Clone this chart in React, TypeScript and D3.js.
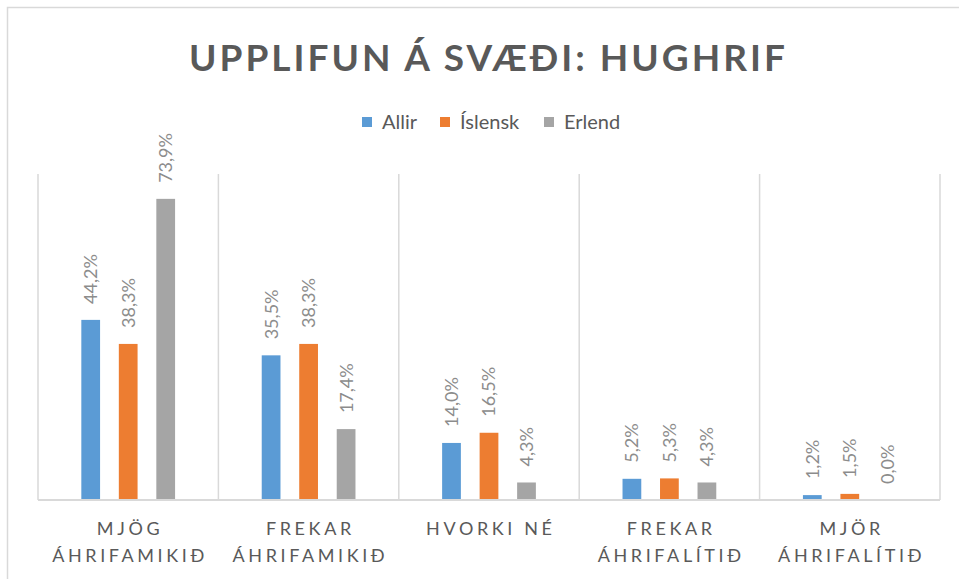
import React from "react";
import * as d3 from "d3";

const categories = ["MJÖG|ÁHRIFAMIKIÐ", "FREKAR|ÁHRIFAMIKIÐ", "HVORKI NÉ", "FREKAR|ÁHRIFALÍTIÐ", "MJÖR|ÁHRIFALÍTIÐ"];
const seriesNames = ["Allir", "Íslensk", "Erlend"];
const allir = [44.2, 35.5, 14.0, 5.2, 1.2];
const islensk = [38.3, 38.3, 16.5, 5.3, 1.5];
const erlend = [73.9, 17.4, 4.3, 4.3, 0.0];
const colors = ["#5b9bd5", "#ed7d31", "#a5a5a5"];
const title = "UPPLIFUN Á SVÆÐI: HUGHRIF";

const W = 959;
const H = 579;
const plot = { left: 38, right: 940, top: 174, bottom: 500 };
const FONT = "Lato, 'Open Sans', sans-serif";

export default function App() {
  const values = [allir, islensk, erlend];
  const x = d3.scaleBand<string>().domain(categories).range([plot.left, plot.right]).padding(0);
  const bw = x.bandwidth();
  const xi = d3
    .scaleBand<string>()
    .domain(seriesNames)
    .range([bw / 2 - 56.25, bw / 2 + 56.25])
    .paddingInner(0.5)
    .paddingOuter(0.25);
  const y = d3.scaleLinear().domain([0, 80]).range([plot.bottom, plot.top]);
  const fmt = (v: number) => v.toFixed(1).replace(".", ",") + "%";

  const gridXs = categories.map((c) => x(c)!).concat([plot.right]);
  const legendOffsets = [362, 440, 544];

  return (
    <svg
      width={W}
      height={H}
      style={{ position: "absolute", left: 0, top: 0, background: "#fff" }}
      fontFamily={FONT}
    >
      <rect x={0} y={0} width={W} height={H} fill="#fff" />
      <rect x={7.5} y={7.5} width={W + 20} height={H + 20} fill="none" stroke="#d9d9d9" strokeWidth={1.5} />
      <text
        x={487}
        y={71}
        textAnchor="middle"
        fontSize={37}
        fontWeight={700}
        fill="#595959"
        textLength={596}
        lengthAdjust="spacing"
      >
        {title}
      </text>
      {seriesNames.map((s, i) => (
        <g key={s} transform={`translate(${legendOffsets[i]},0)`}>
          <rect x={0} y={117} width={10} height={10} fill={colors[i]} />
          <text x={20} y={129} fontSize={20} fill="#595959">
            {s}
          </text>
        </g>
      ))}
      {gridXs.map((gx, i) => (
        <line key={i} x1={gx} x2={gx} y1={plot.top} y2={plot.bottom} stroke="#d9d9d9" strokeWidth={1.5} />
      ))}
      {categories.map((c, ci) => (
        <g key={c} transform={`translate(${x(c)},0)`}>
          {seriesNames.map((s, si) => {
            const v = values[si][ci];
            const bx = xi(s)!;
            const top = y(v);
            const cx = bx + xi.bandwidth() / 2;
            return (
              <g key={s}>
                <rect x={bx} y={top} width={xi.bandwidth()} height={plot.bottom - top} fill={colors[si]} />
                <text
                  transform={`translate(${cx},${top - 16}) rotate(-90)`}
                  dy="0.36em"
                  fontSize={18}
                  fill="#8c8c8c"
                >
                  {fmt(v)}
                </text>
              </g>
            );
          })}
        </g>
      ))}
      <line x1={plot.left} x2={plot.right} y1={plot.bottom} y2={plot.bottom} stroke="#d9d9d9" strokeWidth={2} />
      {categories.map((c) => {
        const lines = c.split("|");
        const cx = x(c)! + bw / 2;
        return (
          <text key={c} textAnchor="middle" fontSize={18} fill="#595959" letterSpacing={3.6}>
            {lines.map((l, li) => (
              <tspan key={li} x={cx + 1.8} y={535 + li * 27}>
                {l}
              </tspan>
            ))}
          </text>
        );
      })}
    </svg>
  );
}
